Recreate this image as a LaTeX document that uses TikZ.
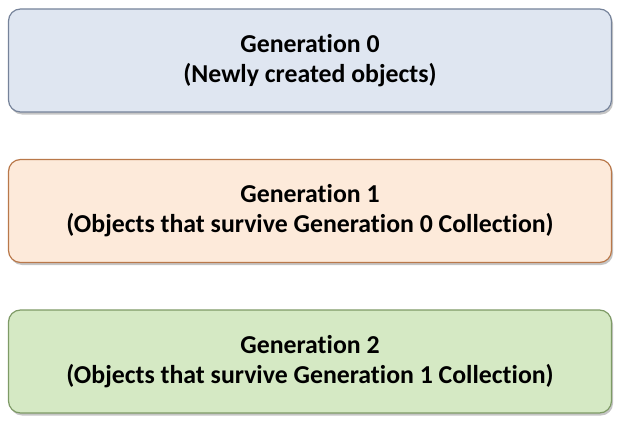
\documentclass[tikz,border=0pt]{standalone}
\usepackage{fontspec}
\setmainfont[Ligatures=NoCommon]{Carlito}
\usetikzlibrary{positioning,shadows}
\definecolor{genzerofill}{HTML}{DFE6F1}
\definecolor{genzerodraw}{HTML}{76839A}
\definecolor{genonefill}{HTML}{FDEADA}
\definecolor{genonedraw}{HTML}{B9784A}
\definecolor{gentwofill}{HTML}{D5E9C4}
\definecolor{gentwodraw}{HTML}{7E9A66}
\begin{document}
\begin{tikzpicture}[node distance=150.5pt,auto]
			\tikzstyle{block} = [rectangle, draw, line width=1.2pt, minimum width=603pt, minimum height=103pt, text centered, rounded corners=12pt, align=center, font=\fontsize{25.8}{30}\selectfont\bfseries, drop shadow={shadow xshift=1.5pt, shadow yshift=-2.5pt, fill=black!45}];
			\useasboundingbox (0pt,0pt) rectangle (620pt,-425pt);
			\draw node [block, draw=genzerodraw, fill=genzerofill] at (310pt,-60.5pt) (gen0){Generation 0\\(Newly created objects)};
			\draw node [block, draw=genonedraw, fill=genonefill, below of=gen0] (gen1){Generation 1\\(Objects that survive Generation 0 Collection)};
			\draw node [block, draw=gentwodraw, fill=gentwofill, below of=gen1] (gen2){Generation 2\\(Objects that survive Generation 1 Collection)};
		\end{tikzpicture}
\end{document}
